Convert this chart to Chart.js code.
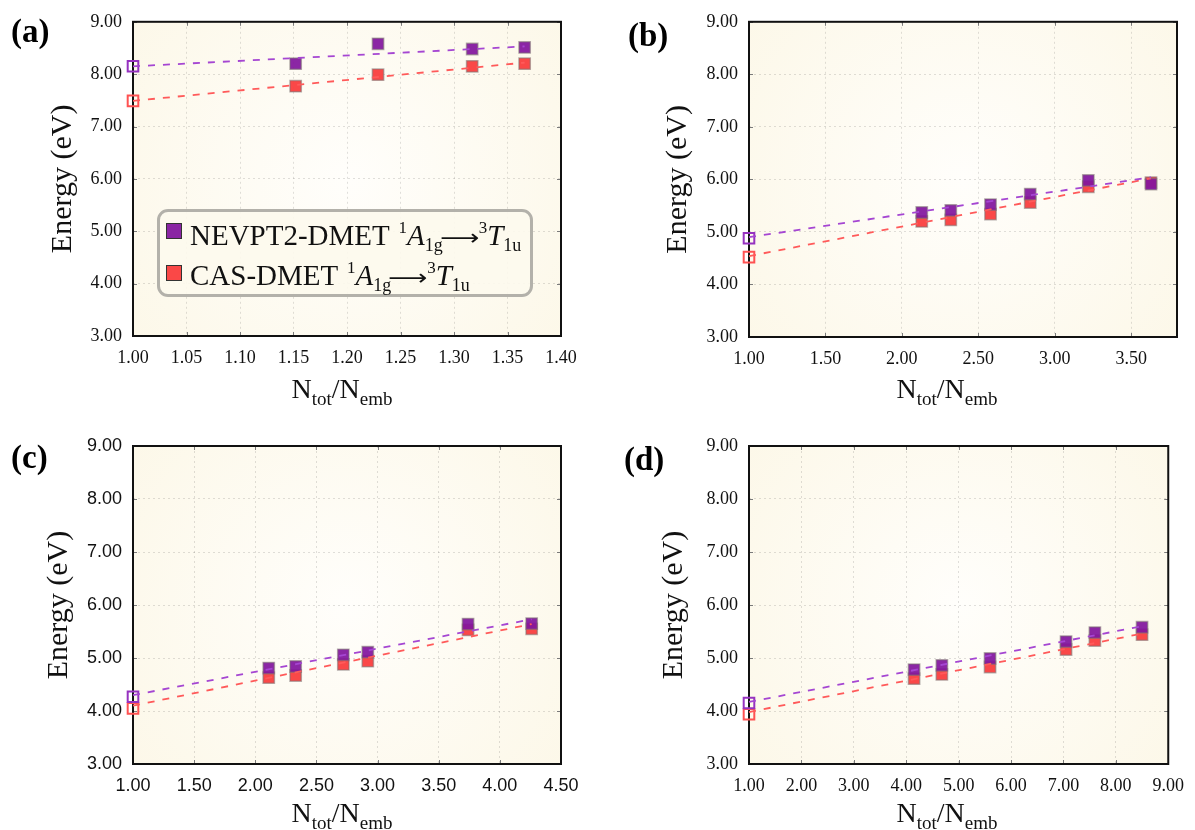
<!DOCTYPE html>
<html><head><meta charset="utf-8">
<script src="https://cdn.jsdelivr.net/npm/chart.js@4.4.1/dist/chart.umd.min.js"></script>
<style>
body{margin:0;background:#fff;}
#wrap{position:relative;width:1195px;height:830px;overflow:hidden;background:#fff;font-family:'Liberation Serif','Times New Roman',serif;color:#111;}
.panel{position:absolute;}
.panel canvas{position:absolute;left:0;top:0;}
.plabel{position:absolute;font-weight:bold;font-size:33px;line-height:33px;color:#000;white-space:nowrap;}
.xtitle{position:absolute;width:240px;text-align:center;font-size:28px;line-height:28px;white-space:nowrap;}
.sb{position:relative;font-size:19px;top:7px;}
#legend{position:absolute;left:157px;top:209px;width:370px;height:82px;border:3px solid #b3b1aa;border-radius:11px;background:rgba(253,249,237,0.9);}
.lrow{position:absolute;left:0;height:29px;font-size:29px;line-height:29px;white-space:nowrap;}
.lsq{position:absolute;width:14px;height:14px;border:1px solid #333;}
.ltx{position:absolute;left:30px;top:0;}
.sup{position:relative;font-size:17px;top:-12px;margin-left:2px;}
.sub{position:relative;font-size:18px;top:6px;}
.arr{display:inline-block;width:34px;text-align:center;font-family:'DejaVu Sans',sans-serif;font-size:22px;transform:scaleX(1.25);}
</style>
</head><body>
<div id="wrap"></div>
<script>
// ---------------- data ----------------
const seriesNames = ['NEVPT2-DMET', 'CAS-DMET'];
const transition = {from: '1', fromSym: 'A', fromSub: '1g', to: '3', toSym: 'T', toSub: '1u'};
const panelLabels = ['(a)', '(b)', '(c)', '(d)'];
const yTitle = 'Energy (eV)';
const yTicks = [3, 4, 5, 6, 7, 8, 9];

// panel (a)
const xTicksA = [1.00, 1.05, 1.10, 1.15, 1.20, 1.25, 1.30, 1.35, 1.40];
const ratioA = [1.152, 1.229, 1.317, 1.366];
const nevptA = [8.20, 8.58, 8.48, 8.51];
const casA = [7.77, 7.99, 8.15, 8.20];
const nevptLimitA = 8.15;
const casLimitA = 7.49;
const fitXA = [1.00, 1.366];
const nevptFitA = [8.15, 8.53];
const casFitA = [7.49, 8.22];

// panel (b)
const xTicksB = [1.00, 1.50, 2.00, 2.50, 3.00, 3.50];
const ratioB = [2.13, 2.32, 2.58, 2.84, 3.22, 3.63];
const nevptB = [5.37, 5.41, 5.52, 5.72, 5.98, 5.91];
const casB = [5.20, 5.23, 5.34, 5.56, 5.86, 5.94];
const nevptLimitB = 4.88;
const casLimitB = 4.52;
const fitXB = [1.00, 3.63];
const nevptFitB = [4.90, 6.04];
const casFitB = [4.54, 6.02];

// panel (c)
const xTicksC = [1.00, 1.50, 2.00, 2.50, 3.00, 3.50, 4.00, 4.50];
const ratioC = [2.11, 2.33, 2.72, 2.92, 3.74, 4.26];
const nevptC = [4.81, 4.84, 5.06, 5.11, 5.64, 5.65];
const casC = [4.63, 4.67, 4.88, 4.94, 5.53, 5.55];
const nevptLimitC = 4.27;
const casLimitC = 4.05;
const fitXC = [1.00, 4.26];
const nevptFitC = [4.30, 5.73];
const casFitC = [4.10, 5.64];

// panel (d)
const xTicksD = [1, 2, 3, 4, 5, 6, 7, 8, 9];
const ratioD = [4.15, 4.68, 5.60, 7.05, 7.60, 8.50];
const nevptD = [4.78, 4.86, 4.99, 5.31, 5.48, 5.58];
const casD = [4.61, 4.69, 4.83, 5.16, 5.33, 5.44];
const nevptLimitD = 4.15;
const casLimitD = 3.94;
const fitXD = [1.00, 8.50];
const nevptFitD = [4.17, 5.60];
const casFitD = [3.98, 5.46];

// ---------------- styles / layout ----------------
const C = {
  nevFill: 'rgba(130,22,158,0.93)', casFill: 'rgba(250,62,62,0.95)',
  nevOpen: 'rgb(150,50,192)', casOpen: 'rgb(255,82,82)',
  nevLine: 'rgb(165,70,210)', casLine: 'rgb(255,90,90)',
  edge: 'rgba(125,115,115,0.55)'
};
const SERIF = "'Liberation Serif','Times New Roman',serif";
const SANS = "'Liberation Sans',Arial,sans-serif";

const panels = [
  {left:0, top:0, w:600, h:420, area:{l:133, r:561, t:18, b:336}, ytp:45, tickFont:SERIF,
   label:{x:11, y:15}, xt:{cx:342, base:398},
   xTicks:xTicksA, xmin:1.0, xmax:1.4, xs:ratioA, nev:nevptA, cas:casA, nev0:nevptLimitA, cas0:casLimitA, fx:fitXA, nf:nevptFitA, cf:casFitA},
  {left:600, top:0, w:595, h:420, area:{l:149, r:577, t:19, b:337}, ytp:60, tickFont:SERIF,
   label:{x:28, y:19}, xt:{cx:347, base:398},
   xTicks:xTicksB, xmin:1.0, xmax:3.8, xs:ratioB, nev:nevptB, cas:casB, nev0:nevptLimitB, cas0:casLimitB, fx:fitXB, nf:nevptFitB, cf:casFitB},
  {left:0, top:420, w:600, h:410, area:{l:133, r:561, t:26, b:344}, ytp:41, tickFont:SANS,
   label:{x:11, y:21}, xt:{cx:342, base:402},
   xTicks:xTicksC, xmin:1.0, xmax:4.5, xs:ratioC, nev:nevptC, cas:casC, nev0:nevptLimitC, cas0:casLimitC, fx:fitXC, nf:nevptFitC, cf:casFitC},
  {left:600, top:420, w:595, h:410, area:{l:149, r:577, t:26, b:344}, ytp:56, tickFont:SERIF,
   label:{x:24, y:23}, xt:{cx:347, base:402},
   xTicks:xTicksD, xmin:1.0, xmax:9.0, xs:ratioD, nev:nevptD, cas:casD, nev0:nevptLimitD, cas0:casLimitD, fx:fitXD, nf:nevptFitD, cf:casFitD}
];

const bgPlugin = {
  id: 'bg',
  beforeDraw(chart) {
    const {ctx, chartArea: a} = chart;
    const cx = (a.left + a.right) / 2, cy = (a.top + a.bottom) / 2;
    const g = ctx.createRadialGradient(cx, cy, 0, cx, cy, Math.max(a.width, a.height) * 0.72);
    g.addColorStop(0, '#fffefb');
    g.addColorStop(1, '#fcf7e6');
    ctx.save();
    ctx.fillStyle = g;
    ctx.fillRect(a.left, a.top, a.width, a.height);
    ctx.restore();
  }
};
const framePlugin = {
  id: 'frame',
  beforeDatasetsDraw(chart) {
    const {ctx, chartArea: a, scales} = chart;
    ctx.save();
    ctx.strokeStyle = '#7a7a7a';
    ctx.lineWidth = 1;
    const L = 4;
    ctx.beginPath();
    scales.x.ticks.forEach(t => {
      const px = Math.round(scales.x.getPixelForValue(t.value)) + 0.5;
      ctx.moveTo(px, a.bottom); ctx.lineTo(px, a.bottom - L);
      ctx.moveTo(px, a.top); ctx.lineTo(px, a.top + L);
    });
    scales.y.ticks.forEach(t => {
      const py = Math.round(scales.y.getPixelForValue(t.value)) + 0.5;
      ctx.moveTo(a.left, py); ctx.lineTo(a.left + L, py);
      ctx.moveTo(a.right, py); ctx.lineTo(a.right - L, py);
    });
    ctx.stroke();
    ctx.strokeStyle = '#111';
    ctx.lineWidth = 2;
    ctx.strokeRect(a.left, a.top, a.width, a.height);
    ctx.restore();
  }
};

const wrap = document.getElementById('wrap');

panels.forEach((p, idx) => {
  const div = document.createElement('div');
  div.className = 'panel';
  div.style.left = p.left + 'px'; div.style.top = p.top + 'px';
  div.style.width = p.w + 'px'; div.style.height = p.h + 'px';
  const cv = document.createElement('canvas');
  cv.width = p.w; cv.height = p.h;
  cv.style.width = p.w + 'px'; cv.style.height = p.h + 'px';
  div.appendChild(cv);

  const lab = document.createElement('div');
  lab.className = 'plabel';
  lab.style.left = p.label.x + 'px'; lab.style.top = p.label.y + 'px';
  lab.textContent = panelLabels[idx];
  div.appendChild(lab);

  const xt = document.createElement('div');
  xt.className = 'xtitle';
  xt.style.left = (p.xt.cx - 120) + 'px';
  xt.style.top = (p.xt.base - 23.5) + 'px';
  xt.innerHTML = 'N<span class="sb">tot</span>/N<span class="sb">emb</span>';
  div.appendChild(xt);
  wrap.appendChild(div);

  const pts = (xs, ys) => xs.map((x, i) => ({x: x, y: ys[i]}));
  const tickFont = {family: p.tickFont, size: 18};

  new Chart(cv, {
    type: 'scatter',
    data: {
      datasets: [
        {label: seriesNames[0] + ' fit', data: pts(p.fx, p.nf), showLine: true, borderColor: C.nevLine, borderWidth: 1.8, borderDash: [7, 8], pointRadius: 0, fill: false, clip: false},
        {label: seriesNames[1] + ' fit', data: pts(p.fx, p.cf), showLine: true, borderColor: C.casLine, borderWidth: 1.8, borderDash: [7, 8], pointRadius: 0, fill: false, clip: false},
        {label: seriesNames[0], data: pts(p.xs, p.nev), backgroundColor: C.nevFill, borderColor: C.edge, borderWidth: 1.5, pointStyle: 'rect', pointRadius: 8, clip: false},
        {label: seriesNames[1], data: pts(p.xs, p.cas), backgroundColor: C.casFill, borderColor: C.edge, borderWidth: 1.5, pointStyle: 'rect', pointRadius: 8, clip: false},
        {label: seriesNames[0] + ' limit', data: [{x: 1, y: p.nev0}], backgroundColor: 'rgba(0,0,0,0)', borderColor: C.nevOpen, borderWidth: 2, pointStyle: 'rect', pointRadius: 7.5, clip: false},
        {label: seriesNames[1] + ' limit', data: [{x: 1, y: p.cas0}], backgroundColor: 'rgba(0,0,0,0)', borderColor: C.casOpen, borderWidth: 2, pointStyle: 'rect', pointRadius: 7.5, clip: false}
      ]
    },
    options: {
      responsive: false,
      animation: false,
      events: [],
      layout: {padding: {left: 0, top: p.area.t, right: p.w - p.area.r, bottom: 0}},
      plugins: {legend: {display: false}, tooltip: {enabled: false}},
      scales: {
        x: {
          type: 'linear', min: p.xmin, max: p.xmax,
          afterBuildTicks: s => { s.ticks = p.xTicks.map(v => ({value: v})); },
          afterFit: s => { s.height = p.h - p.area.b; },
          grid: {color: 'rgba(0,0,0,0.12)', lineWidth: 1, drawTicks: false},
          border: {display: false, dash: [2, 3]},
          ticks: {padding: 11, color: '#111', font: tickFont, autoSkip: false, maxRotation: 0, callback: v => Number(v).toFixed(2)}
        },
        y: {
          type: 'linear', min: 3, max: 9,
          afterBuildTicks: s => { s.ticks = yTicks.map(v => ({value: v})); },
          afterFit: s => { s.width = p.area.l; },
          grid: {color: 'rgba(0,0,0,0.12)', lineWidth: 1, drawTicks: false},
          border: {display: false, dash: [2, 3]},
          ticks: {padding: 11, color: '#111', font: tickFont, callback: v => Number(v).toFixed(2)},
          title: {display: true, text: yTitle, color: '#111', font: {family: SERIF, size: 30}, padding: {top: p.ytp, bottom: 0}}
        }
      }
    },
    plugins: [bgPlugin, framePlugin]
  });

  if (idx === 0) {
    const lg = document.createElement('div');
    lg.id = 'legend';
    const fills = [C.nevFill, C.casFill];
    const rowTops = [9, 49];
    const sqTops = [11, 53];
    seriesNames.forEach((name, i) => {
      const row = document.createElement('div');
      row.className = 'lrow';
      row.style.top = rowTops[i] + 'px';
      row.innerHTML = '<div class="lsq" style="left:6px;top:' + (sqTops[i] - rowTops[i]) + 'px;background:' + fills[i] + '"></div>' +
        '<span class="ltx">' + name + ' <span class="sup">' + transition.from + '</span><i>' + transition.fromSym + '</i><span class="sub">' + transition.fromSub + '</span><span class="arr">\u27F6</span><span class="sup">' + transition.to + '</span><i>' + transition.toSym + '</i><span class="sub">' + transition.toSub + '</span></span>';
      lg.appendChild(row);
    });
    div.appendChild(lg);
  }
});
</script>
</body></html>
